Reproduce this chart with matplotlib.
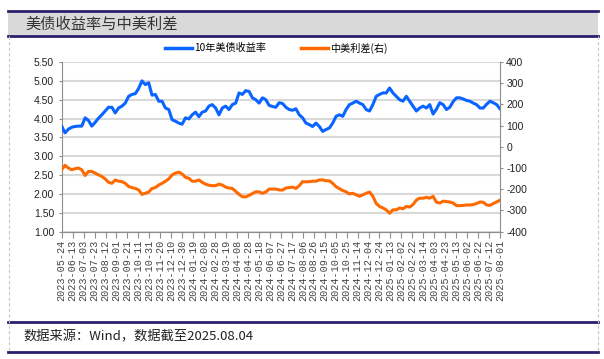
import numpy as np
import pandas as pd
import matplotlib
matplotlib.use('Agg')
import matplotlib.pyplot as plt
from matplotlib.lines import Line2D
from matplotlib.patches import Rectangle

plt.rcParams['font.family'] = ['Noto Sans CJK SC', 'DejaVu Sans']

# US 10Y yield (%), roughly every 6 days
us10y = [3.80, 3.62, 3.72, 3.77, 3.79, 3.80, 3.80, 4.02, 3.95, 3.80, 3.90, 4.01, 4.10, 4.20, 4.30,
         4.30, 4.15, 4.28, 4.33, 4.41, 4.59, 4.64, 4.66, 4.80, 5.00, 4.90, 4.95, 4.62, 4.64, 4.46,
         4.46, 4.28, 4.24, 3.97, 3.93, 3.88, 3.85, 4.02, 3.99, 4.10, 4.17, 4.05, 4.17, 4.20,
         4.33, 4.37, 4.28, 4.10, 4.28, 4.33, 4.24, 4.37, 4.41, 4.68, 4.64, 4.74, 4.72, 4.55, 4.50,
         4.41, 4.55, 4.50, 4.35, 4.32, 4.30, 4.42, 4.40, 4.30, 4.24, 4.22, 4.26, 4.10, 4.02, 3.88,
         3.84, 3.79, 3.88, 3.79, 3.66, 3.71, 3.75, 3.88, 4.06, 4.10, 4.06, 4.24, 4.37,
         4.41, 4.46, 4.41, 4.37, 4.24, 4.20, 4.37, 4.59, 4.64, 4.68, 4.68, 4.81, 4.68, 4.59, 4.50,
         4.46, 4.59, 4.46, 4.33, 4.20, 4.28, 4.33, 4.28, 4.37, 4.12, 4.25, 4.42, 4.37, 4.24, 4.30,
         4.45, 4.55, 4.55, 4.52, 4.48, 4.46, 4.41, 4.37, 4.28, 4.28, 4.38, 4.46, 4.42, 4.37, 4.26]

# China-US 10Y spread (bp), right axis
spread = [-108, -87, -100, -108, -103, -100, -108, -135, -116, -116, -124, -132, -140, -151, -167,
          -172, -156, -162, -164, -172, -187, -192, -196, -203, -224, -219, -213, -196, -192, -180,
          -172, -162, -151, -132, -124, -119, -128, -144, -148, -162, -162, -156, -167, -176,
          -181, -183, -183, -176, -180, -190, -194, -196, -210, -224, -235, -236, -229, -220, -212,
          -212, -219, -213, -199, -199, -199, -203, -204, -194, -192, -190, -196, -183, -164, -165,
          -164, -162, -162, -156, -156, -160, -160, -172, -188, -197, -206, -212, -222,
          -219, -226, -233, -226, -219, -213, -233, -267, -281, -288, -297, -313, -297, -297, -288,
          -292, -281, -284, -272, -251, -242, -242, -238, -242, -233, -261, -265, -256, -258, -260,
          -265, -277, -277, -276, -274, -274, -272, -267, -260, -261, -274, -276, -267, -260, -251]

start, end = '2023-05-24', '2025-08-01'
dates = pd.date_range(start, end, periods=len(us10y))
xticks = pd.date_range(start, end, freq='20D')
left_ticks = np.arange(1.0, 5.51, 0.5)
right_ticks = np.arange(-400, 401, 100)

W, H = 604, 359
def fx(x):
    return x / W
def fy(y):
    return 1 - y / H

fig = plt.figure(figsize=(W / 100, H / 100), dpi=100)
ax = fig.add_axes([fx(61.7), fy(231.7), fx(500) - fx(61.7), fy(62) - fy(231.7)])
ax2 = ax.twinx()

blue = '#0a64ff'
orange = '#ff6a00'
num_font = ['Liberation Sans', 'DejaVu Sans']

ax.plot(dates, us10y, color=blue, lw=2.2, zorder=3)
ax2.plot(dates, spread, color=orange, lw=2.2, zorder=3)

ax.set_xlim(pd.Timestamp(start), pd.Timestamp(end))
ax.set_ylim(1, 5.5)
ax2.set_ylim(-400, 400)
ax.set_yticks(left_ticks)
ax.set_yticklabels([f'{v:.2f}' for v in left_ticks], fontfamily=num_font, fontsize=7.5)
ax2.set_yticks(right_ticks)
ax2.set_yticklabels([str(v) for v in right_ticks], fontfamily=num_font, fontsize=7.5)
ax.set_xticks(xticks)
ax.set_xticklabels([d.strftime('%Y-%m-%d') for d in xticks], rotation=90,
                   fontfamily=['Liberation Mono', 'DejaVu Sans Mono'], fontsize=7.3)

ax.yaxis.grid(True, color='#d9d9d9', lw=1.5)
ax.set_axisbelow(True)

spine_c = '#8c8c8c'
for s in ['top', 'right']:
    ax.spines[s].set_visible(False)
for s in ['top', 'left', 'bottom']:
    ax2.spines[s].set_visible(False)
ax.spines['left'].set_color(spine_c)
ax.spines['bottom'].set_color(spine_c)
ax2.spines['right'].set_color(spine_c)
ax.tick_params(axis='y', direction='out', length=2.5, color=spine_c, pad=3, labelcolor='#222222')
ax2.tick_params(axis='y', direction='out', length=2.5, color=spine_c, pad=2, labelcolor='#222222')
ax.tick_params(axis='x', direction='out', length=4.5, color=spine_c, pad=1.5, labelcolor='#444444')

handles = [Line2D([], [], color=blue, lw=2.5), Line2D([], [], color=orange, lw=2.5)]
fig.legend(handles, ['10年美债收益率', '中美利差(右)'], loc='center', ncol=2,
           bbox_to_anchor=(fx(276), fy(48)), frameon=False, fontsize=7.3,
           handlelength=2.7, handletextpad=0.2, columnspacing=3.4)

# title band and footer frame
navy = '#2b1f6e'
fig.add_artist(Rectangle((fx(8.3), fy(36)), fx(597.7) - fx(8.3), fy(11) - fy(36),
                         transform=fig.transFigure, fc='#d9d9d9', ec='none'))
for y in [11, 36, 322, 352]:
    fig.add_artist(Line2D([fx(8.3), fx(597.7)], [fy(y), fy(y)], transform=fig.transFigure,
                          color=navy, lw=2))
for x in [9, 597.7]:
    fig.add_artist(Line2D([fx(x), fx(x)], [fy(36), fy(352)], transform=fig.transFigure,
                          color='#c8c8c8', lw=0.8, ls=(0, (3, 2))))

fig.text(fx(25), fy(24), '美债收益率与中美利差', fontsize=11, color='#333333', va='center')
fig.text(fx(23), fy(337), '数据来源：Wind，数据截至2025.08.04', fontsize=9.5, color='#222222', va='center')

fig.savefig('out.png', dpi=100)
